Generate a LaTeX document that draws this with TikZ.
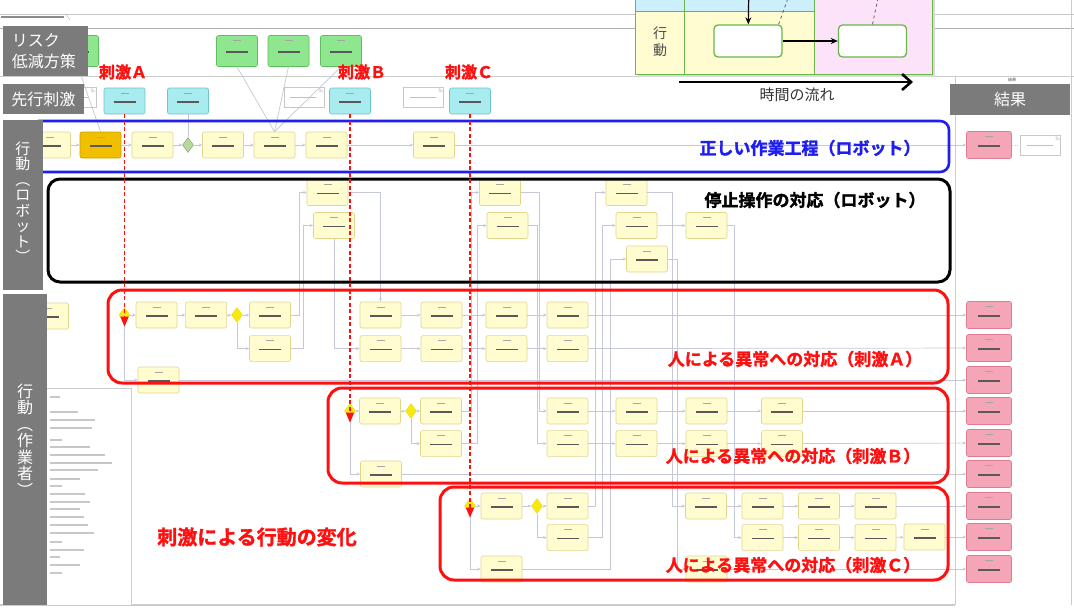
\documentclass[tikz,border=0pt]{standalone}
\usepackage{fontspec}
\setmainfont{Noto Sans CJK JP}[BoldFont={Noto Sans CJK JP Bold}, BoldFeatures={FakeBold=1.6}]
\usetikzlibrary{positioning,arrows.meta,shapes.geometric}

\definecolor{laneGray}{HTML}{7B7B7B}
\definecolor{taskFill}{HTML}{FFFCCF}
\definecolor{taskLine}{HTML}{E2D58E}
\definecolor{goldFill}{HTML}{F0C000}
\definecolor{goldLine}{HTML}{C9A000}
\definecolor{riskFill}{HTML}{8EE68E}
\definecolor{riskLine}{HTML}{5FBF5F}
\definecolor{cueFill}{HTML}{A9ECEF}
\definecolor{cueLine}{HTML}{6CC4CC}
\definecolor{resFill}{HTML}{F5A6B6}
\definecolor{resLine}{HTML}{E07A92}
\definecolor{linkGray}{HTML}{C4C8D8}
\definecolor{gateYellow}{HTML}{F5EA10}
\definecolor{gateGreen}{HTML}{B5D99B}
\definecolor{legGreen}{HTML}{6AB64A}
\definecolor{legBlue}{HTML}{CDEFFB}
\definecolor{legYellow}{HTML}{FFFCD2}
\definecolor{legPink}{HTML}{FCE3FA}
\definecolor{flowBlue}{HTML}{1E1EF0}
\definecolor{alarmRed}{HTML}{FF1010}

\begin{document}
\begin{tikzpicture}[x=1pt, y=-1pt,
		box/.style={rounded corners=2pt, minimum width=41pt, minimum height=26pt, inner sep=0pt, line width=0.6pt},
		blurtext/.style={path picture={
			\draw[black!35, line width=0.9pt] ([shift={(-4pt,-5pt)}]path picture bounding box.north) -- ++(8pt,0pt);
			\draw[black!65, line width=1.5pt] ([shift={(-11pt,-1pt)}]path picture bounding box.center) -- ++(22pt,0pt);}},
		task/.style={box, draw=taskLine, fill=taskFill, blurtext},
		gold/.style={box, draw=goldLine, fill=goldFill, blurtext},
		risk/.style={box, draw=riskLine, fill=riskFill, minimum height=31pt, blurtext},
		cue/.style={box, draw=cueLine, fill=cueFill, blurtext},
		result/.style={box, draw=resLine, fill=resFill, minimum width=45pt, minimum height=27pt, blurtext},
		memo/.style={draw=black!22, fill=white, minimum width=40pt, minimum height=20pt, inner sep=0pt, line width=0.5pt,
			path picture={\fill[black!12] ([xshift=-5pt]path picture bounding box.north east) -- ([yshift=-5pt]path picture bounding box.north east) -- ([shift={(-5pt,-5pt)}]path picture bounding box.north east) -- cycle;
			\draw[black!25, line width=0.8pt] ([xshift=-14pt]path picture bounding box.center) -- ++(26pt,0pt);}},
		gate/.style={diamond, draw=gateYellow!80!orange, fill=gateYellow, minimum width=11pt, minimum height=15pt, inner sep=0pt},
		ggate/.style={gate, draw=gateGreen!70!black, fill=gateGreen},
		link/.style={draw=linkGray, line width=0.7pt, -{Stealth[length=3.5pt,width=3pt]}},
		tie/.style={draw=linkGray, line width=0.7pt},
		stim/.style={draw=alarmRed, line width=1.3pt, dash pattern=on 4pt off 2.5pt, -{Triangle[length=10pt,width=8pt]}},
		lane/.style={fill=laneGray, text=white, inner sep=0pt},
		bigtxt/.style={font=\bfseries\fontsize{17}{20}\selectfont, inner sep=0pt},
		stimtxt/.style={font=\bfseries\fontsize{16}{18}\selectfont, inner sep=0pt, text=alarmRed},
		legbox/.style={draw=legGreen, fill=white, line width=1.3pt, rounded corners=4pt, minimum width=68pt, minimum height=32pt},
		legarrow/.style={-{Stealth[length=7pt,width=6pt]}, line width=1.2pt}
	]
	\useasboundingbox (0,0) rectangle (1074,611);
	\fill[white] (0,0) rectangle (1074,611);

	% lane grid
	\draw[black!22] (0,14) -- (1074,14);
	\draw[black!30] (0,28) -- (1074,28);
	\draw[black!20] (0,76) -- (1074,76);
	\draw[black!45, line width=2pt] (1,17) -- (64,17);
	\draw[black!35] (66,14) -- (70,20);
	\draw[black!20, line width=1pt] (955,76) -- (955,605);
	\draw[black!20] (1071,0) -- (1071,605);
	\draw[black!20, line width=1.5pt] (0,605) -- (955,605);
	\draw[black!20, fill=white] (45,388) rectangle (131,605);
	\foreach \yy/\ll in {397/10, 412/28, 420/45, 428/42, 440/12, 447/40, 455/55, 463/62, 470/48, 479/30, 486/12, 494/35, 502/40, 509/30, 517/34, 525/38, 533/44, 542/12, 550/34, 557/10, 565/30, 573/12}
		\draw[black!22, line width=1.2pt] (50,\yy) -- ++(\ll,0);

	% Risk reduction
	\node[risk] (gp) at (78,51) {};
	\node[risk] (g1) at (237,51) {};
	\node[risk] (g2) at (288.5,51) {};
	\node[risk] (g3) at (341,51) {};

	% Leading stimuli
	\node[memo] (n0) at (76,97) {};
	\node[cue] (c1) at (124.5,101) {};
	\node[cue] (c2) at (188,101) {};
	\node[memo] (n1) at (304,97) {};
	\node[cue] (c3) at (350,101) {};
	\node[memo] (n2) at (423.5,97) {};
	\node[cue] (c4) at (470,101) {};

	% Robot: normal process
	\node[task] (r1) at (50,145) {};
	\node[gold] (r2) at (100.5,145) {};
	\node[task] (r3) at (152.5,145) {};
	\node[ggate] (dR) at (188,145) {};
	\node[task] (r4) at (223,145) {};
	\node[task] (r5) at (274.5,145) {};
	\node[task] (r6) at (326.5,145) {};
	\node[task] (r7) at (434,145) {};
	\node[result] (p0) at (989,145) {};
	\node[memo] (n3) at (1040.5,145) {};

	% Robot: stop handling
	\node[task] (s1) at (327.5,192.5) {};
	\node[task] (s2) at (334,225.5) {};
	\node[task] (s3) at (500,192.5) {};
	\node[task] (s4) at (507.5,225.5) {};
	\node[task] (s5) at (626.5,192.5) {};
	\node[task] (s6) at (636.5,225.5) {};
	\node[task] (s7) at (706.5,225.5) {};
	\node[task] (s8) at (647,259) {};

	% Worker: stimulus A
	\node[task] (w0) at (48,316) {};
	\node[gate] (dA) at (124.5,315) {};
	\node[task] (a1) at (156.5,315) {};
	\node[task, right=8pt of a1] (a2) {};
	\node[gate] (dA2) at (237,315) {};
	\node[task] (a3) at (270,315) {};
	\node[task, below=7pt of a3] (a4) {};
	\node[task] (a5) at (158.5,380) {};
	\node[task] (a6) at (380.5,315) {};
	\node[task, below=7pt of a6] (a7) {};
	\node[task] (a8) at (441.5,315) {};
	\node[task, below=7pt of a8] (a9) {};
	\node[task] (a10) at (506.5,315) {};
	\node[task, below=7pt of a10] (a11) {};
	\node[task] (a12) at (567.5,315) {};
	\node[task, below=7pt of a12] (a13) {};

	% Worker: stimulus B
	\node[gate] (dB) at (350,411) {};
	\node[task] (b1) at (380,411) {};
	\node[gate] (dB2) at (411,411) {};
	\node[task] (b2) at (441,411) {};
	\node[task, below=6pt of b2] (b3) {};
	\node[task] (b4) at (381,474) {};
	\node[task] (b5) at (567.5,411) {};
	\node[task, below=6pt of b5] (b6) {};
	\node[task] (b7) at (636.5,411) {};
	\node[task, below=6pt of b7] (b8) {};
	\node[task] (b9) at (706.5,411) {};
	\node[task, below=6pt of b9] (b10) {};
	\node[task] (b11) at (782,411) {};
	\node[task, below=6pt of b11] (b12) {};

	% Worker: stimulus C
	\node[gate] (dC) at (470,506) {};
	\node[task] (c1w) at (501.5,506) {};
	\node[gate] (dC2) at (537,506) {};
	\node[task] (c2w) at (567.5,506) {};
	\node[task, below=5pt of c2w] (c3w) {};
	\node[task] (c4w) at (501.5,569) {};
	\node[task] (c5w) at (706,506) {};
	\node[task] (c6w) at (762.5,506) {};
	\node[task] (c7w) at (819,506) {};
	\node[task] (c8w) at (875.5,506) {};
	\node[task, below=5pt of c6w] (c9w) {};
	\node[task, below=5pt of c7w] (c10w) {};
	\node[task, below=5pt of c8w] (c11w) {};
	\node[task] (c12w) at (924.5,537) {};
	\node[task] (c13w) at (706.5,569) {};

	% Results
	\node[result] (p1) at (989,315) {};
	\node[result] (p2) at (989,348) {};
	\node[result] (p3) at (989,380) {};
	\node[result] (p4) at (989,411) {};
	\node[result] (p5) at (989,443) {};
	\node[result] (p6) at (989,474) {};
	\node[result] (p7) at (989,506) {};
	\node[result] (p8) at (989,537) {};
	\node[result] (p9) at (989,569) {};

	% Links: robot
	\draw[tie] (gp.south) -- (r2.north);
	\draw[tie] (g1.south) -- (r5.north);
	\draw[tie] (g2.south) -- (r5.north);
	\draw[tie] (g3.south) -- (r5.north);
	\draw[tie] (c2.south) -- (dR.north);
	\draw[link] (r1) -- (r2);
	\draw[link] (r2) -- (r3);
	\draw[link] (r3) -- (dR);
	\draw[link] (dR) -- (r4);
	\draw[link] (r4) -- (r5);
	\draw[link] (r5) -- (r6);
	\draw[link] (r6) -- (r7);
	\draw[link] (r7) -- (p0);
	\draw[tie, dotted] (p0) -- (n3);

	% Links: stop handling
	\draw[link] (a3.east) -- ++(9,0) |- (s1.west);
	\draw[link] (a4.east) -- ++(13,0) |- (s2.west);
	\draw[link] (s1.east) -| (a6.north);
	\draw[link] (s2.south) |- (a7.west);
	\draw[link] (b2.east) -- ++(10,0) |- (s3.west);
	\draw[link] (b3.east) -- ++(16,0) |- (s4.west);
	\draw[link] (s3.east) -- ++(19,0) |- (b5.west);
	\draw[link] (s4.east) -- ++(9,0) |- (b6.west);
	\draw[link] (c2w.east) -- ++(7,0) |- (s5.west);
	\draw[link] (c3w.east) -- ++(14,0) |- (s6.west);
	\draw[link] (c4w.east) -- ++(88,0) |- (s8.west);
	\draw[link] (s5.east) -- ++(25,0) |- (c5w.west);
	\draw[link] (s6) -- (s7);
	\draw[link] (s7.east) -- ++(7,0) |- (c9w.west);
	\draw[link] (s8.east) -- ++(10,0) |- (c13w.west);

	% Links: worker A
	\draw[link] (dA) -- (a1);
	\draw[link] (a1) -- (a2);
	\draw[link] (a2) -- (dA2);
	\draw[link] (dA2) -- (a3);
	\draw[link] (dA2) |- (a4);
	\draw[link] (dA) |- (a5);
	\draw[link] (a5) -- (p3);
	\draw[link] (a6) -- (a8);
	\draw[link] (a8) -- (a10);
	\draw[link] (a10) -- (a12);
	\draw[link] (a12) -- (p1);
	\draw[link] (a7) -- (a9);
	\draw[link] (a9) -- (a11);
	\draw[link] (a11) -- (a13);
	\draw[link] (a13) -- (p2);

	% Links: worker B
	\draw[link] (dB) -- (b1);
	\draw[link] (b1) -- (dB2);
	\draw[link] (dB2) -- (b2);
	\draw[link] (dB2) |- (b3);
	\draw[link] (dB) |- (b4);
	\draw[link] (b4) -- (p6);
	\draw[link] (b5) -- (b7);
	\draw[link] (b7) -- (b9);
	\draw[link] (b9) -- (b11);
	\draw[link] (b11) -- (p4);
	\draw[link] (b6) -- (b8);
	\draw[link] (b8) -- (b10);
	\draw[link] (b10) -- (b12);
	\draw[link] (b12) -- (p5);

	% Links: worker C
	\draw[link] (dC) -- (c1w);
	\draw[link] (c1w) -- (dC2);
	\draw[link] (dC2) -- (c2w);
	\draw[link] (dC2) |- (c3w);
	\draw[link] (dC) |- (c4w);
	\draw[link] (c5w) -- (c6w);
	\draw[link] (c6w) -- (c7w);
	\draw[link] (c7w) -- (c8w);
	\draw[link] (c8w) -- (p7);
	\draw[link] (c9w) -- (c10w);
	\draw[link] (c10w) -- (c11w);
	\draw[link] (c11w) -- (c12w);
	\draw[link] (c12w) -- (p8);
	\draw[link] (c13w) -- (p9);

	% Frames
	\draw[flowBlue, line width=2.6pt, rounded corners=9pt] (30,121) rectangle (949,172);
	\draw[black, line width=3pt, rounded corners=12pt] (48,179) rectangle (950,282);
	\draw[alarmRed, line width=3pt, rounded corners=14pt] (108,290) rectangle (948,383);
	\draw[alarmRed, line width=3pt, rounded corners=14pt] (328,388) rectangle (948,483);
	\draw[alarmRed, line width=3pt, rounded corners=14pt] (440,487) rectangle (948,580);

	\node[bigtxt, text=flowBlue] (tNormal) at (810,148) {正しい作業工程（ロボット）};
	\node[bigtxt] (tStop) at (815,200) {停止操作の対応（ロボット）};
	\node[bigtxt, text=alarmRed] (tRespA) at (795,359) {人による異常への対応（刺激Ａ）};
	\node[bigtxt, text=alarmRed] (tRespB) at (793,456) {人による異常への対応（刺激Ｂ）};
	\node[bigtxt, text=alarmRed] (tRespC) at (793,565) {人による異常への対応（刺激Ｃ）};
	\node[bigtxt, text=alarmRed, font=\bfseries\fontsize{20}{24}\selectfont] (tChange) at (257,537) {刺激による行動の変化};

	% Stimuli
	\node[stimtxt] (kA) at (123,72) {刺激Ａ};
	\node[stimtxt] (kB) at (362,72) {刺激Ｂ};
	\node[stimtxt] (kC) at (469,72) {刺激Ｃ};
	\draw[stim, shorten >=-4pt] (c1.south) -- (dA.south);
	\draw[stim, shorten >=-4pt] (c3.south) -- (dB.south);
	\draw[stim, shorten >=-4pt] (c4.south) -- (dC.south);

	% Lane headers
	\node[lane, minimum width=85pt, minimum height=50pt] (hRisk) at (45.5,51) {};
	\node[text=white, align=left, inner sep=0pt, font=\fontsize{16}{21}\selectfont] (tRisk) at (44,51) {リスク\\低減方策};
	\node[lane, minimum width=81pt, minimum height=30pt, font=\fontsize{16}{18}\selectfont] (hCue) at (43.5,99) {先行刺激};
	\node[lane, minimum width=40pt, minimum height=170pt] (hRobot) at (23,205) {};
	\node[text=white, align=center, inner sep=0pt, font=\fontsize{15}{15.5}\selectfont] (tRobot) at (23,202) {行\\動\\︵\\ロ\\ボ\\ッ\\ト\\︶};
	\node[lane, minimum width=44pt, minimum height=311pt] (hWorker) at (25,449.5) {};
	\node[text=white, align=center, inner sep=0pt, font=\fontsize{16}{16.5}\selectfont] (tWorker) at (25,440) {行\\動\\︵\\作\\業\\者\\︶};
	\node[lane, minimum width=120pt, minimum height=31pt, font=\fontsize{16}{18}\selectfont] (hResult) at (1010,99.5) {結果};
	\node[inner sep=0pt, font=\fontsize{4}{5}\selectfont, text=black!70] (tResult) at (1012,80) {結果};

	% Legend
	\fill[black!15] (638,-20) rectangle (935,77);
	\fill[legBlue] (635,-20) rectangle (814,11);
	\fill[legYellow] (635,11) rectangle (814,74);
	\fill[legPink] (814,-20) rectangle (932,74);
	\draw[legGreen, line width=1pt] (635,-20) rectangle (932,74) (684,-20) -- (684,74) (814,-20) -- (814,74) (635,11) -- (814,11);
	\node[inner sep=0pt, text=black!70, font=\fontsize{14}{15}\selectfont] (legCue) at (660,-6) {激};
	\node[inner sep=0pt, text=black!70, align=center, font=\fontsize{14}{17}\selectfont] (legAct) at (660,42) {行\\動};
	\node[legbox] (lb1) at (748,41) {};
	\node[legbox] (lb2) at (872.5,41) {};
	\coordinate (legTop1) at (749,-20);
	\coordinate (legTop2) at (788,-2);
	\coordinate (legTop3) at (878,-2);
	\draw[legarrow] (legTop1) -- (lb1);
	\draw[legarrow] (lb1) -- (lb2);
	\draw[black!60, dashed, line width=0.8pt] ([xshift=-4pt]lb1.north east) -- (legTop2);
	\draw[black!60, dashed, line width=0.8pt] (lb2.north) -- (legTop3);

	% Time
	\coordinate (tStart) at (679,82);
	\coordinate (tEnd) at (913,82);
	\draw[line width=2.6pt, -{Straight Barb[length=9pt,width=16pt]}] (tStart) -- (tEnd);
	\node[inner sep=0pt, text=black!80, font=\fontsize{15}{17}\selectfont] (tTime) at (797,95) {時間の流れ};
\end{tikzpicture}
\end{document}
